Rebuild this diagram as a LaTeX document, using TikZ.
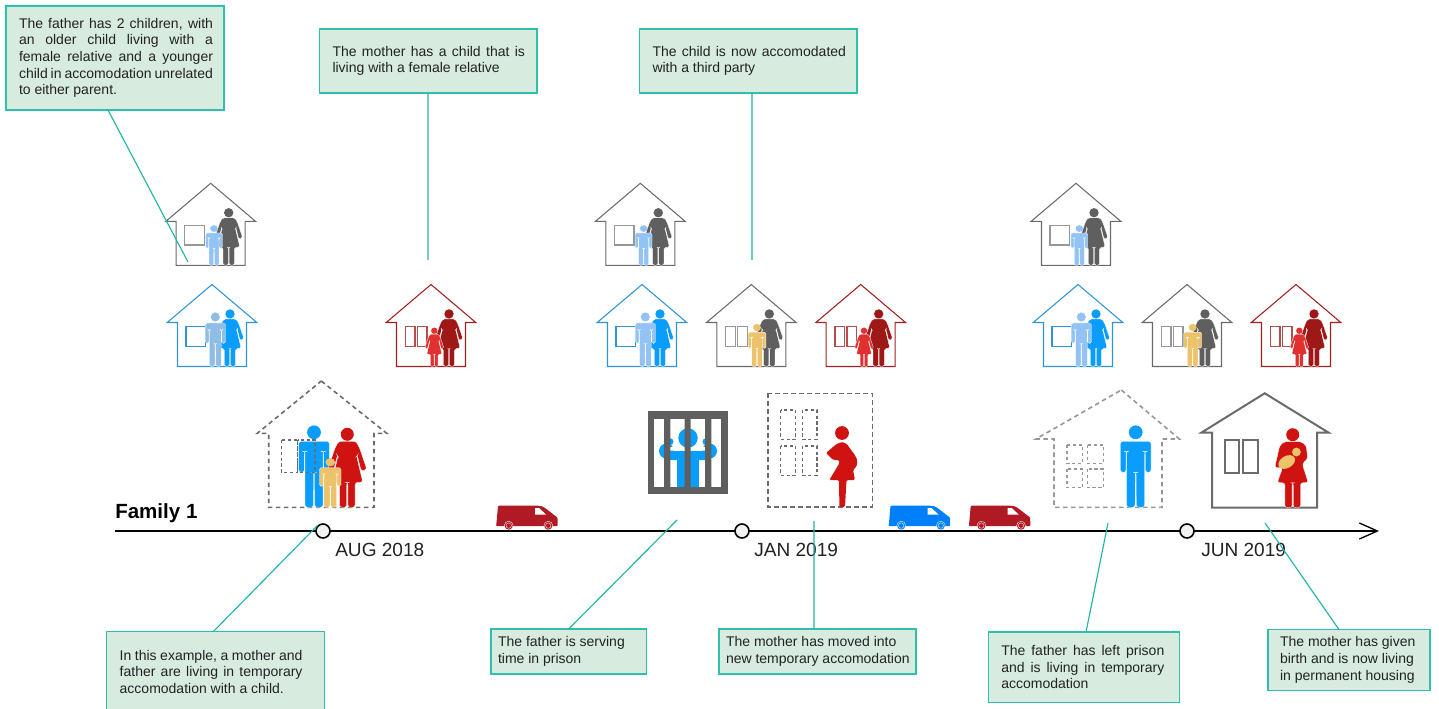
\documentclass[tikz,border=0pt]{standalone}
\usepackage{fontspec}
\setmainfont{Liberation Sans}
\usetikzlibrary{arrows.meta}
\definecolor{boxfill}{HTML}{D7ECDF}
\definecolor{boxline}{HTML}{2EBFAE}
\definecolor{conn}{HTML}{1FB5A5}
\definecolor{txt}{HTML}{222222}
\definecolor{mblue}{HTML}{0A9DFB}
\definecolor{lblue}{HTML}{93C3F5}
\definecolor{sblue}{HTML}{8FBDE6}
\definecolor{yel}{HTML}{ECC26A}
\definecolor{mred}{HTML}{CF1310}
\definecolor{dred}{HTML}{9E1818}
\definecolor{kred}{HTML}{E03030}
\definecolor{pgrey}{HTML}{5F5F5F}
\definecolor{hgrey}{HTML}{6B6B6B}
\definecolor{hblue}{HTML}{2D94D6}
\definecolor{hred}{HTML}{A32020}
\definecolor{vred}{HTML}{B01A24}
\definecolor{vblue}{HTML}{0080F8}
\newlength\boxw \newlength\lpad \newlength\rpad
\newcommand\jl[1]{\hbox to \boxw{\hskip\lpad\spaceskip=.278em plus 1fil minus .1em #1\hskip\rpad}}
\newcommand\nl[1]{\hbox to \boxw{\hskip\lpad #1\hfil}}
% \notebox{name}{x0}{y0}{x1}{y1}{left pad}{right pad}{lines}
\newcommand\notebox[8]{%
  \pgfmathsetlengthmacro\bw{(#4-#2)*.75pt}%
  \pgfmathsetlengthmacro\bh{(#5-#3)*.75pt}%
  \node[notestyle,minimum width=\bw,minimum height=\bh] (#1) at ({(#2+#4)/2},{(#3+#5)/2})
    {\setlength\boxw{\bw}\lpad=#6pt \lpad=.75\lpad \rpad=#7pt \rpad=.75\rpad \vbox{\baselineskip=12.5pt #8}};}
\tikzset{
  x=.75pt,y=-.75pt,
  notestyle/.style={draw=boxline,fill=boxfill,line width=.9pt,inner sep=0pt,outer sep=0pt,text=txt,font=\fontsize{10.5}{12.5}\selectfont},
  datelabel/.style={inner sep=0pt,anchor=west,text=txt,font=\fontsize{14.3}{16}\selectfont},
  famlabel/.style={inner sep=0pt,anchor=west,text=black,font=\fontsize{15.4}{18}\selectfont\bfseries},
  marker/.style={circle,draw=black,fill=black!5,line width=1.2pt,minimum size=10.5pt,inner sep=0pt},
  connector/.style={draw=conn,line width=.85pt},
  pbig/.style={scale=1,rounded corners=1.9pt},
  pmanmid/.style={scale=.66,rounded corners=1.3pt},
  pwomanmid/.style={scale=.72,rounded corners=1.3pt},
  pkid/.style={xscale=.55,yscale=.49,rounded corners=1pt},
  pgirl/.style={scale=.49,rounded corners=.8pt},
  pyelmid/.style={xscale=.58,yscale=.52,rounded corners=1pt},
  pyelbig/.style={xscale=.7,yscale=.6,rounded corners=1.2pt},
  dashbig/.style={draw=#1,line width=1.2pt,dash pattern=on 3.4pt off 2.6pt},
  dashsmall/.style={draw=#1,line width=1.1pt,dash pattern=on 2.4pt off 2pt},
  man/.pic={
    \path[fill=#1] (0,-75) circle[radius=6.9];
    \path[fill=#1,draw=white,line width=.2pt] (-15.3,-35) -- (-15.3,-66) -- (15.3,-66) -- (15.3,-35) -- (9.6,-35) -- (9.6,-56) -- (9,-56) -- (9,0) -- (.6,0) -- (.4,-35) -- (-.4,-35) -- (-.6,0) -- (-9,0) -- (-9,-56) -- (-9.6,-56) -- (-9.6,-35) -- cycle;
  },
  woman/.pic={
    \path[fill=#1] (0,-73) circle[radius=6.5];
    \path[fill=#1,draw=white,line width=.2pt] (-8.5,-66) -- (8.5,-66) -- (12,-60) -- (19.5,-38) -- (14,-36) -- (10,-52) -- (9.3,-51) -- (15.5,-25) -- (7.8,-25) -- (7.8,0) -- (.6,0) -- (.6,-25) -- (-.6,-25) -- (-.6,0) -- (-7.8,0) -- (-7.8,-25) -- (-15.5,-25) -- (-9.3,-51) -- (-10,-52) -- (-14,-36) -- (-19.5,-38) -- (-12,-60) -- cycle;
  },
  mombaby/.pic={
    \path[fill=mred] (0,-73) circle[radius=6.5];
    \path[fill=mred,draw=white,line width=.2pt] (-8.5,-66) -- (8.5,-66) -- (13.5,-62) -- (15,-49) -- (9.5,-44) -- (15.5,-25) -- (7.8,-25) -- (7.8,0) -- (.6,0) -- (.6,-25) -- (-.6,-25) -- (-.6,0) -- (-7.8,0) -- (-7.8,-25) -- (-15.5,-25) -- (-10,-40) -- (-18,-40) -- (-13,-62) -- cycle;
    \path[fill=yel] (-6,-45.7) ellipse[x radius=9,y radius=6,rotate=30];
    \path[fill=yel] (3.7,-55.7) circle[radius=4.4];
  },
  pregnant/.pic={
    \path[fill=mred] (0,-74) circle[radius=6.9];
    \path[fill=mred,rounded corners=1pt] (-5.5,-63) -- (0,-65) -- (5,-63) .. controls (10,-55) and (16,-50) .. (15,-43) .. controls (14.5,-40) and (12,-38) .. (11,-37) -- (13,-27) -- (4.5,-27) -- (3,0) -- (-2.6,0) -- (-3,-27) -- (-12.7,-27) -- (-2.5,-44) -- (-3,-47) -- (-8.7,-47) -- (-16,-54) -- cycle;
  },
  house/.pic={
    \draw[draw=#1,line width=.8pt,line join=miter] (0,0) -- (44.8,38) -- (34.5,38) -- (34.5,82) -- (-34.5,82) -- (-34.5,38) -- (-44.8,38) -- cycle;
  },
  onewin/.pic={
    \draw[draw=#1,line width=.9pt] (-26,42.4) rectangle (-6.4,61.7);
  },
  twowin/.pic={
    \draw[draw=#1,line width=.9pt] (-25.7,42.4) rectangle (-16,61.7) (-13.7,42.4) rectangle (-4,61.7);
  },
  van/.pic={
    \path[fill=#1,rounded corners=.8pt] (.5,-7) -- (2,-24.3) -- (41,-24.3) .. controls (46,-24) and (48,-23) .. (51,-20.5) -- (60,-13.5) .. controls (61,-13) and (61.5,-12) .. (61.5,-10) -- (61.7,-3.8) -- (0,-3.8) -- cycle;
    \path[fill=white] (39,-22) -- (43,-22) -- (50,-15.5) -- (39,-15.5) -- cycle;
    \path[fill=#1,draw=white,line width=.25pt] (12.7,-4.4) circle[radius=4.4] (52.3,-4.4) circle[radius=4.4];
    \draw[white,line width=.25pt] (12.7,-4.4) circle[radius=2.7] (52.3,-4.4) circle[radius=2.7];
  },
}
\begin{document}
\begin{tikzpicture}
\useasboundingbox (0,0) rectangle (1439,709);
% timeline
\coordinate (axstart) at (115,531);
\coordinate (axend) at (1379,531);
\draw[black,line width=1.2pt,-{Straight Barb[length=13.5pt,width=12pt,line width=1pt]}] (axstart) -- (axend);
\node[marker] (t1) at (323,531) {};
\node[marker] (t2) at (742,531) {};
\node[marker] (t3) at (1187,531) {};
\node[famlabel] (fam) at (115,513.5) {Family 1};
\node[datelabel] (d1) at (335,550) {AUG 2018};
\node[datelabel] (d2) at (754,550) {JAN 2019};
\node[datelabel] (d3) at (1201,550) {JUN 2019};
% vans
\pic at (496,530) {van=vred};
\pic at (888.5,530) {van=vblue};
\pic at (968.7,530) {van=vred};
% small houses, upper row
\begin{scope}[shift={(210.7,183.3)}]
  \pic {house=hgrey}; \pic {onewin=hgrey!70};
  \pic[pwomanmid] at (18,82) {woman=pgrey}; \pic[pkid] at (3.3,82) {man=lblue};
\end{scope}
\begin{scope}[shift={(640.3,183.3)}]
  \pic {house=hgrey}; \pic {onewin=hgrey!70};
  \pic[pwomanmid] at (18,82) {woman=pgrey}; \pic[pkid] at (3.3,82) {man=lblue};
\end{scope}
\begin{scope}[shift={(1076,183.3)}]
  \pic {house=hgrey}; \pic {onewin=hgrey!70};
  \pic[pwomanmid] at (18,82) {woman=pgrey}; \pic[pkid] at (3.3,82) {man=lblue};
\end{scope}
% small houses, lower row
\begin{scope}[shift={(212,284.5)}]
  \pic {house=hblue}; \pic {onewin=hblue};
  \pic[pwomanmid] at (18,82) {woman=mblue}; \pic[pmanmid] at (3.3,82) {man=sblue};
\end{scope}
\begin{scope}[shift={(642,284.5)}]
  \pic {house=hblue}; \pic {onewin=hblue};
  \pic[pwomanmid] at (18,82) {woman=mblue}; \pic[pmanmid] at (3.3,82) {man=lblue};
\end{scope}
\begin{scope}[shift={(1078,284.5)}]
  \pic {house=hblue}; \pic {onewin=hblue};
  \pic[pwomanmid] at (18,82) {woman=mblue}; \pic[pmanmid] at (3.3,82) {man=lblue};
\end{scope}
\begin{scope}[shift={(431,284.5)}]
  \pic {house=hred}; \pic {twowin=hred!80};
  \pic[pwomanmid] at (18,82) {woman=dred}; \pic[pgirl] at (3.3,82) {woman=kred};
\end{scope}
\begin{scope}[shift={(860.7,284.5)}]
  \pic {house=hred}; \pic {twowin=hred!80};
  \pic[pwomanmid] at (18,82) {woman=dred}; \pic[pgirl] at (3.3,82) {woman=kred};
\end{scope}
\begin{scope}[shift={(1296,284.5)}]
  \pic {house=hred}; \pic {twowin=hred!80};
  \pic[pwomanmid] at (18,82) {woman=dred}; \pic[pgirl] at (3.3,82) {woman=kred};
\end{scope}
\begin{scope}[shift={(751.3,284.5)}]
  \pic {house=hgrey}; \pic {twowin=hgrey!70};
  \pic[pwomanmid] at (18,82) {woman=pgrey}; \pic[pyelmid] at (5.7,82) {man=yel};
\end{scope}
\begin{scope}[shift={(1187,284.5)}]
  \pic {house=hgrey}; \pic {twowin=hgrey!70};
  \pic[pwomanmid] at (18,82) {woman=pgrey}; \pic[pyelmid] at (5.7,82) {man=yel};
\end{scope}
% family in temporary house
\draw[dashbig=hgrey] (321.3,381) -- (386.7,433.3) -- (374,433.3) -- (374,507.3) -- (268.7,507.3) -- (268.7,433.3) -- (257.3,433.3) -- cycle;
\pic[pbig] at (314,507.3) {man=mblue};
\pic[pbig] at (347.3,507.3) {woman=mred};
\draw[dashsmall=hgrey] (281.7,440) rectangle (297.7,472.7) (297.7,440) rectangle (315,472.7);
\pic[pyelbig] at (330.3,507.3) {man=yel};
% prison
\fill[pgrey] (648,411) rectangle (728,494);
\fill[white] (654.3,419) rectangle (721,487);
\fill[mblue] (676.7,455) rectangle (699,487);
\fill[mblue] (666.5,451) rectangle (709.5,460);
\fill[mblue] (666.5,451) circle[radius=7.5] (709.5,451) circle[radius=7.5];
\fill[white] (670,447) rectangle (676,450.7) (700,447) rectangle (706,450.7);
\fill[mblue] (688,438) circle[radius=9.7] (670,441.7) circle[radius=3.5] (706,441.7) circle[radius=3.5];
\fill[pgrey] (664,419) rectangle (670.3,487) (684.7,419) rectangle (690.7,487) (705,419) rectangle (711.3,487);
% mother, new temporary accommodation
\draw[dashbig=hgrey] (767.7,393.3) rectangle (872.3,506.7);
\draw[dashsmall=hgrey] (780.7,410) rectangle (795.7,439.3) (802.3,410) rectangle (817,439.3) (780.7,446) rectangle (795.7,475.3) (802.3,446) rectangle (817,475.3);
\pic at (842,507) {pregnant};
% father, temporary house
\draw[dashbig=hgrey!70] (1121.3,390) -- (1179.3,439) -- (1162,439) -- (1162,507.3) -- (1054,507.3) -- (1054,439) -- (1036,439) -- cycle;
\draw[dashsmall=hgrey!70] (1067,445) rectangle (1082.7,463.3) (1087.7,445) rectangle (1103.3,463.3) (1067,469) rectangle (1082.7,487.7) (1087.7,469) rectangle (1103.3,487.7);
\pic[pbig] at (1135.7,507.3) {man=mblue};
% mother, permanent house
\draw[hgrey,line width=1.5pt] (1264.7,393.3) -- (1328.7,432.7) -- (1317,432.7) -- (1317,507.7) -- (1212,507.7) -- (1212,432.7) -- (1201.3,432.7) -- cycle;
\draw[hgrey,line width=1.5pt] (1224.7,440) rectangle (1239.3,472.7) (1243.3,440) rectangle (1258,472.7);
\pic[pbig] at (1292.7,507.7) {mombaby};
% notes
\notebox{n1}{6}{6}{224}{110}{13}{11}{\jl{The father has 2 children, with}\jl{an older child living with a}\jl{female relative and a younger}\jl{child in accomodation unrelated}\nl{to either parent.}}
\notebox{n2}{319.5}{29}{537}{93}{13}{12}{\jl{The mother has a child that is}\nl{living with a female relative}}
\notebox{n3}{639.5}{29}{857}{93}{13}{11}{\jl{The child is now accomodated}\nl{with a third party}}
\notebox{n4}{106.7}{631.7}{324.5}{712}{13}{22}{\jl{In this example, a mother and}\jl{father are living in temporary}\nl{accomodation with a child.}}
\notebox{n5}{491}{629}{646.5}{674}{7}{7}{\nl{The father is serving}\nl{time in prison}}
\notebox{n6}{719}{629}{916}{674}{7}{7}{\nl{The mother has moved into}\nl{new temporary accomodation}}
\notebox{n7}{988.3}{632}{1179.3}{702.3}{13}{15}{\jl{The father has left prison}\jl{and is living in temporary}\nl{accomodation}}
\notebox{n8}{1268}{629.7}{1430}{690.3}{12}{10}{\nl{The mother has given}\nl{birth and is now living}\nl{in permanent housing}}
% connectors
\coordinate (e1) at (188,262);
\coordinate (e2) at (428,260);
\coordinate (e3) at (752,260);
\coordinate (e5) at (677,520);
\coordinate (e6) at (814,521);
\coordinate (e7) at (1108,523);
\coordinate (e8) at (1265,523);
\draw[connector] ([xshift=76.5pt]n1.south west) -- (e1);
\draw[connector] ([xshift=81.4pt]n2.south west) -- (e2);
\draw[connector] ([xshift=84.4pt]n3.south west) -- (e3);
\draw[connector] ([xshift=79.9pt]n4.north west) -- (t1.135);
\draw[connector] ([xshift=58.3pt]n5.north west) -- (e5);
\draw[connector] ([xshift=71.2pt]n6.north west) -- (e6);
\draw[connector] ([xshift=73.3pt]n7.north west) -- (e7);
\draw[connector] ([xshift=53.3pt]n8.north west) -- (e8);
\end{tikzpicture}
\end{document}
